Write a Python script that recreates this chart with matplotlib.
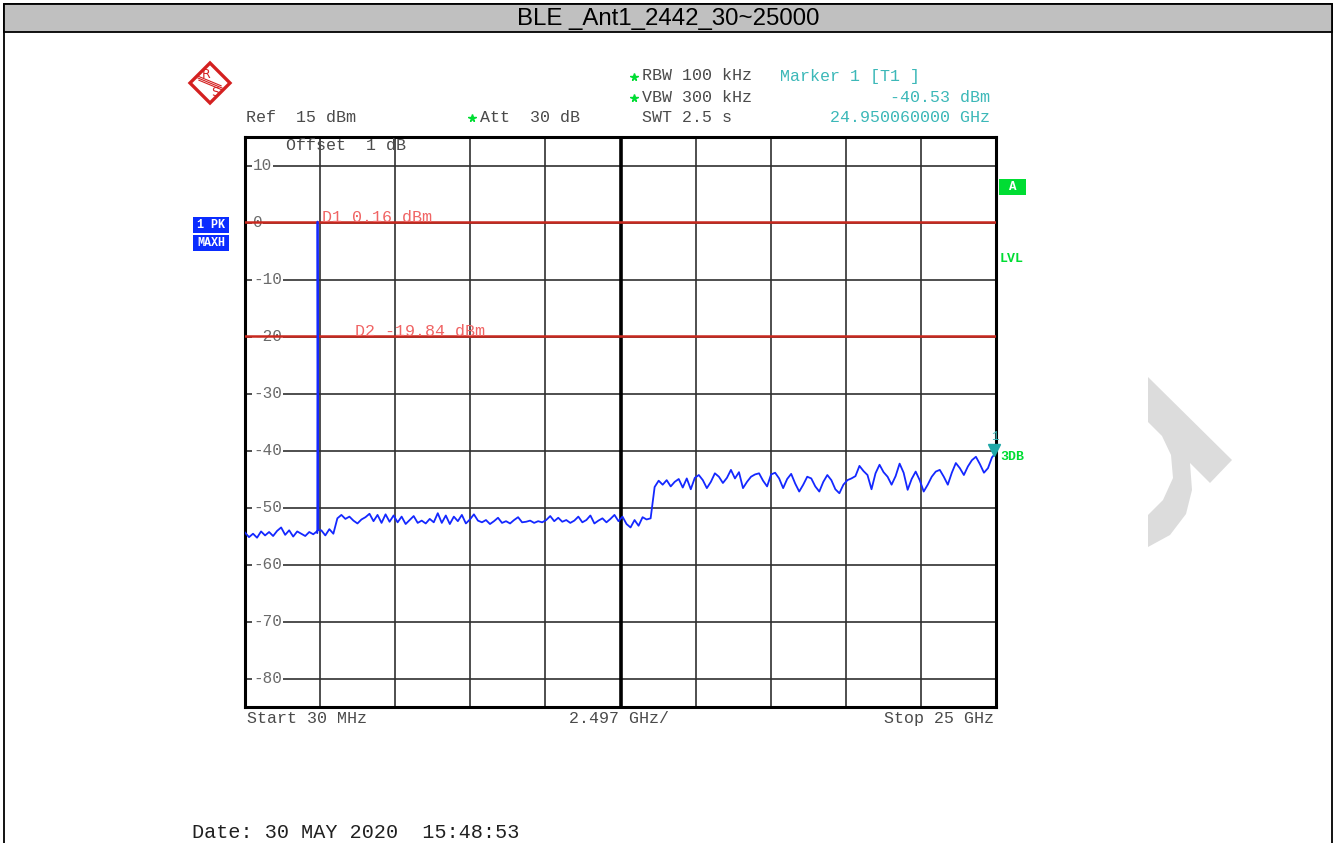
import numpy as np
import matplotlib
matplotlib.use("Agg")
import matplotlib.pyplot as plt
from matplotlib.patches import Rectangle, Polygon
from matplotlib.lines import Line2D
from matplotlib import transforms

W, H = 1336, 843

# ---- measurement data -------------------------------------------------------
title = "BLE _Ant1_2442_30~25000"
start_mhz = 30.0
stop_mhz = 25000.0
ref_level = 15.0
bottom_level = -85.0
level_ticks = [10, 0, -10, -20, -30, -40, -50, -60, -70, -80]
level_tick_labels = ["10", "0", "-10", "-20", "-30", "-40", "-50", "-60", "-70", "-80"]

# max-hold trace (dBm), equally spaced sweep points from start to stop
trace_levels = [
    # 30 MHz .. ~2.9 GHz
    -54.4, -55.2, -54.6, -55.3, -54.2, -54.9, -54.3, -55.0, -54.1, -53.5,
    -54.8, -54.0, -55.1, -54.2, -54.6, -55.0, -54.3, -54.7, -54.5, -54.0,
    -54.9, -53.8, -54.6,
    # ~2.9 GHz .. ~13.6 GHz
    -51.9, -51.3, -52.0, -51.6, -52.3, -52.8, -52.1, -51.7, -51.1, -52.4,
    -51.3, -52.7, -51.2, -52.5, -51.4, -52.6, -51.6, -52.9, -52.2, -51.5,
    -52.7, -52.3, -52.8, -52.0, -52.6, -51.0, -52.7, -51.4, -52.9, -51.6,
    -52.4, -51.3, -52.8, -52.1, -51.2, -52.3, -52.6, -52.2, -52.9, -52.4,
    -51.8, -52.7, -52.4, -52.8, -52.2, -51.7, -52.6, -52.5, -52.3, -52.7,
    -52.4, -52.6, -52.2, -51.5, -52.4, -51.8, -52.5, -52.2, -52.7, -52.3,
    -51.6, -52.6, -52.2, -51.4, -52.8, -52.3, -51.9, -52.6, -52.0, -51.3,
    -52.4, -51.6, -52.9, -53.5, -52.2, -53.2, -51.7, -52.1, -51.9,
    # ~13.6 GHz .. 25 GHz
    -46.4, -45.3, -46.0, -45.2, -46.3, -45.5, -45.0, -46.5, -44.9, -46.8,
    -44.8, -44.3, -45.2, -46.6, -45.5, -44.0, -44.6, -45.7, -44.8, -43.4,
    -44.9, -43.8, -46.6, -45.5, -44.6, -44.2, -44.0, -45.3, -46.3, -44.2,
    -43.9, -44.9, -46.6, -45.0, -44.1, -45.8, -47.2, -46.0, -44.6, -44.9,
    -46.3, -47.2, -45.5, -44.3, -45.2, -46.8, -47.5, -46.0, -45.2, -44.9,
    -44.5, -42.7, -43.6, -44.3, -46.8, -44.0, -42.5, -43.8, -44.6, -46.0,
    -44.5, -42.3, -43.9, -46.9, -45.0, -43.7, -45.2, -47.2, -46.0, -44.6,
    -43.7, -43.4, -44.6, -46.0, -43.9, -42.2, -43.1, -44.3, -42.8, -41.7,
    -41.1, -42.4, -43.9, -43.1, -41.2, -40.4,
]

# carrier spike at 2442 MHz
peak_freqs = [2417.0, 2442.0, 2467.0]
peak_levels = [-54.2, 0.16, -54.0]

d1_level = 0.16
d2_level = -19.84
marker_freq = 24950.06
marker_level = -40.53

# ---- helpers ----------------------------------------------------------------
def fx(x):
    return x / W

def fy(y):
    return 1.0 - y / H

MONO = ["Liberation Mono", "DejaVu Sans Mono"]
GREY_TXT = "#4a4a4a"
CYAN = "#3cb8b8"
GREEN = "#00dd33"
SALMON = "#f06464"
BLUE_BOX = "#0a2cff"
RS_RED = "#d42020"

fig = plt.figure(figsize=(W / 100, H / 100), dpi=100)
fig.patch.set_facecolor("white")

# ---- outer frame and title bar ---------------------------------------------
fig.add_artist(Rectangle((fx(4), fy(848)), fx(1332) - fx(4), fy(4) - fy(848),
                         transform=fig.transFigure, fill=False,
                         ec="black", lw=1.3, zorder=1))
fig.add_artist(Rectangle((fx(4), fy(32)), fx(1332) - fx(4), fy(4) - fy(32),
                         transform=fig.transFigure, fc="#c0c0c0",
                         ec="black", lw=1.3, zorder=2))
fig.text(fx(668), fy(19), title, ha="center", va="center", fontsize=17.3,
         family=["Liberation Sans Narrow", "Liberation Sans", "DejaVu Sans"],
         color="black", zorder=3)

# ---- spectrum axes -------------------------------------------------------------
ax = fig.add_axes([fx(245), fy(707), fx(996) - fx(245), fy(137) - fy(707)])
ax.set_xlim(start_mhz, stop_mhz)
ax.set_ylim(bottom_level, ref_level)
xgrid = np.linspace(start_mhz, stop_mhz, 11)
ax.set_xticks(xgrid)
ax.set_yticks(level_ticks)
ax.tick_params(length=0, labelbottom=False, labelleft=False)
ax.grid(True, color="#303030", lw=1.2, zorder=0)
ax.set_axisbelow(True)
for sp in ax.spines.values():
    sp.set_linewidth(2.2)
    sp.set_color("black")
ax.axvline(xgrid[5], color="black", lw=2.6, zorder=1)

# level labels drawn inside the graticule
bt = transforms.blended_transform_factory(ax.transAxes, ax.transData)
for lv, lab in zip(level_ticks, level_tick_labels):
    ax.text(0.0105, lv - 0.8, lab, transform=bt,
            ha="left", va="baseline", fontsize=11.5, family=MONO, color="#6a6a6a",
            bbox=dict(fc="white", ec="none", pad=0.6), zorder=2)

# display lines
ax.axhline(d1_level, color="#c8281e", lw=1.8, zorder=3)
ax.axhline(d2_level, color="#c8281e", lw=1.8, zorder=3)
ax.text(0.1025, d1_level, "D1 0.16 dBm", transform=bt, ha="left", va="baseline",
        fontsize=12, family=MONO, color=SALMON, zorder=4)
ax.text(0.1465, d2_level, "D2 -19.84 dBm", transform=bt, ha="left", va="baseline",
        fontsize=12, family=MONO, color=SALMON, zorder=4)

# trace
freqs = np.linspace(start_mhz, stop_mhz, len(trace_levels))
all_f = np.concatenate([freqs, np.array(peak_freqs)])
all_l = np.concatenate([np.array(trace_levels), np.array(peak_levels)])
order = np.argsort(all_f, kind="stable")
ax.plot(all_f[order], all_l[order], color="#1428ff", lw=1.3, zorder=5)

# marker 1
tri_tr = transforms.offset_copy(ax.transData, fig=fig, x=0, y=4, units="dots")
ax.plot([marker_freq], [marker_level], marker="v", ms=8, color="#1fa8a8",
        transform=tri_tr, clip_on=False, zorder=6)
lab_tr = transforms.offset_copy(ax.transData, fig=fig, x=0, y=17, units="dots")
ax.text(marker_freq, marker_level, "1", transform=lab_tr, ha="center", va="center",
        fontsize=9, family=MONO, color=CYAN, clip_on=False, zorder=6)

# ---- header annotations -------------------------------------------------------
def hdr(x, y, s, color=GREY_TXT, ha="left", size=12):
    fig.text(fx(x), fy(y), s, ha=ha, va="baseline", fontsize=size,
             family=MONO, color=color)

def star(x, y):
    fig.add_artist(Line2D([fx(x)], [fy(y)], marker="*", ms=5.5, color=GREEN,
                          mec=GREEN, transform=fig.transFigure))

hdr(246, 121.5, "Ref  15 dBm")
star(472, 118)
hdr(480, 121.5, "Att  30 dB")
star(634, 77)
hdr(642, 80.5, "RBW 100 kHz")
star(634, 98)
hdr(642, 101.5, "VBW 300 kHz")
hdr(642, 121.5, "SWT 2.5 s")
hdr(780, 80.5, "Marker 1 [T1 ]", color=CYAN)
hdr(990, 101.5, "-40.53 dBm", color=CYAN, ha="right")
hdr(990, 121.5, "24.950060000 GHz", color=CYAN, ha="right")
hdr(286, 150.5, "Offset  1 dB")

hdr(247, 723, "Start 30 MHz")
hdr(569, 723, "2.497 GHz/")
hdr(994, 723, "Stop 25 GHz", ha="right")
hdr(192, 838, "Date: 30 MAY 2020  15:48:53", color="#202020", size=14.5)

# trace info boxes
for (y0, y1, s) in [(217, 233, "1 PK"), (235, 251, "MAXH")]:
    fig.add_artist(Rectangle((fx(193), fy(y1)), fx(229) - fx(193), fy(y0) - fy(y1),
                             transform=fig.transFigure, fc=BLUE_BOX, ec="none"))
    fig.text(fx(211), fy((y0 + y1) / 2), s, ha="center", va="center",
             fontsize=8.5, family=MONO, weight="bold", color="white")

fig.add_artist(Rectangle((fx(999), fy(195)), fx(1026) - fx(999), fy(179) - fy(195),
                         transform=fig.transFigure, fc="#00dd33", ec="none"))
fig.text(fx(1012.5), fy(187), "A", ha="center", va="center", fontsize=9,
         family=MONO, weight="bold", color="white")
fig.text(fx(1000), fy(259), "LVL", ha="left", va="center", fontsize=9.5,
         family=MONO, weight="bold", color=GREEN)
fig.text(fx(1000), fy(457), "3DB", ha="left", va="center", fontsize=9.5,
         family=MONO, weight="bold", color=GREEN)

# ---- R&S logo ---------------------------------------------------------------
cx, cy, r = 210, 83, 20
diamond = [(cx, cy - r), (cx + r, cy), (cx, cy + r), (cx - r, cy)]
fig.add_artist(Polygon([(fx(a), fy(b)) for a, b in diamond], closed=True,
                       transform=fig.transFigure, fill=False, ec=RS_RED, lw=2.4))
for k in (-2.2, 0, 2.2):
    fig.add_artist(Line2D([fx(cx - 12 + k * 0.4), fx(cx + 12 + k * 0.4)],
                          [fy(cy - 5 + k), fy(cy + 5 + k)],
                          transform=fig.transFigure, color=RS_RED, lw=0.8))
fig.text(fx(cx - 4), fy(cy - 9), "R", ha="center", va="center", fontsize=9,
         color=RS_RED, family=["DejaVu Sans"])
fig.text(fx(cx + 5), fy(cy + 10), "S", ha="center", va="center", fontsize=9,
         color=RS_RED, family=["DejaVu Sans"])

# ---- light grey emblem on the right margin ---------------------------------
emblem = [(1148, 377), (1232, 460), (1210, 483), (1190, 463), (1192, 490),
          (1186, 514), (1170, 535), (1148, 547), (1148, 515), (1163, 500),
          (1173, 478), (1171, 455), (1162, 436), (1148, 422)]
fig.add_artist(Polygon([(fx(a), fy(b)) for a, b in emblem], closed=True,
                       transform=fig.transFigure, fc="#dcdcdc", ec="none", zorder=0))

fig.savefig("out.png", dpi=100, facecolor="white")
